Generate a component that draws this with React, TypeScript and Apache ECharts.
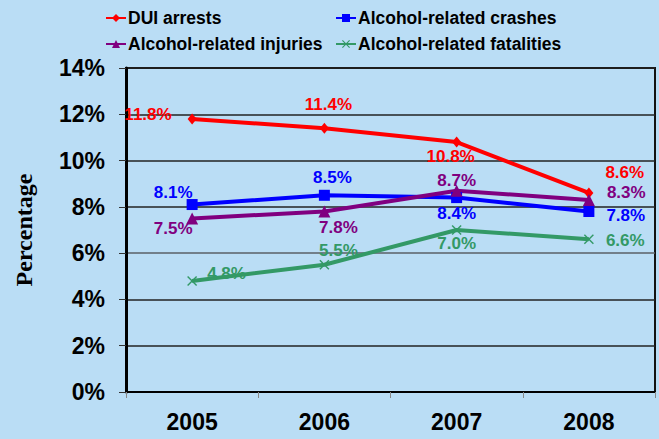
import React, { useEffect, useRef } from "react";
import * as echarts from "echarts";

const years = ["2005", "2006", "2007", "2008"];
const duiArrests = [11.8, 11.4, 10.8, 8.6];
const crashes = [8.1, 8.5, 8.4, 7.8];
const injuries = [7.5, 7.8, 8.7, 8.3];
const fatalities = [4.8, 5.5, 7.0, 6.6];
const yTicks = { min: 0, max: 14, interval: 2 };

const BG = "#BADDF5";
const FONT = "'Liberation Sans', Arial, sans-serif";

type LP = { position: string; distance: number; offset: [number, number] };
const duiLabels: LP[] = [
  { position: "left", distance: 16, offset: [0, -4] },
  { position: "top", distance: 16, offset: [4, 6] },
  { position: "bottom", distance: 4, offset: [-6, -4] },
  { position: "right", distance: 12, offset: [0, -20] },
];
const crashLabels: LP[] = [
  { position: "top", distance: 4, offset: [-19, 6] },
  { position: "top", distance: 9, offset: [8, 5] },
  { position: "bottom", distance: 6, offset: [0, -4] },
  { position: "right", distance: 12, offset: [0, 4] },
];
const injuryLabels: LP[] = [
  { position: "bottom", distance: 1, offset: [-19, -5] },
  { position: "bottom", distance: 7, offset: [14, -5] },
  { position: "top", distance: 2, offset: [0, 6] },
  { position: "right", distance: 12, offset: [0, -7] },
];
const fatalityLabels: LP[] = [
  { position: "right", distance: 10, offset: [0, -7] },
  { position: "top", distance: 7, offset: [14, 6] },
  { position: "bottom", distance: 4, offset: [0, -4] },
  { position: "right", distance: 12, offset: [0, 1] },
];

const X_SYMBOL =
  "path://M0,1L1,0L5,4L9,0L10,1L6,5L10,9L9,10L5,6L1,10L0,9L4,5Z";

function buildSeries(
  name: string,
  values: number[],
  labels: LP[],
  color: string,
  symbol: string,
  symbolSize: number | number[]
) {
  return {
    name,
    type: "line",
    color,
    symbol,
    symbolSize,
    showAllSymbol: true,
    lineStyle: { color, width: 4 },
    itemStyle: { color },
    z: 3,
    data: values.map((v, i) => ({
      value: v,
      label: {
        show: true,
        position: labels[i].position,
        distance: labels[i].distance,
        offset: labels[i].offset,
        color,
        fontFamily: FONT,
        fontWeight: "bold",
        fontSize: 17,
        formatter: (p: any) => p.value.toFixed(1) + "%",
      },
    })),
  };
}

function legendAt(name: string, left: number, top: number) {
  return {
    data: [name],
    left,
    top,
    padding: 0,
    itemWidth: 20,
    itemHeight: 10,
    itemGap: 0,
    textStyle: {
      fontFamily: FONT,
      fontWeight: "bold",
      fontSize: 17.5,
      color: "#000",
      padding: [0, 0, 0, -3],
    },
  };
}

export default function App() {
  const ref = useRef<HTMLDivElement>(null);
  useEffect(() => {
    if (!ref.current) return;
    const chart = echarts.init(ref.current, null, { renderer: "svg" });
    chart.setOption({
      animation: false,
      backgroundColor: BG,
      legend: [
        legendAt("DUI arrests", 105, 9),
        legendAt("Alcohol-related crashes", 335, 9),
        legendAt("Alcohol-related injuries", 105, 35),
        legendAt("Alcohol-related fatalities", 335, 35),
      ],
      grid: {
        left: 126,
        top: 68,
        right: 4,
        bottom: 47,
        show: true,
        backgroundColor: BG,
        borderColor: "#111",
        borderWidth: 2,
      },
      xAxis: {
        type: "category",
        data: years,
        boundaryGap: true,
        axisLine: { show: true, lineStyle: { color: "#000", width: 2 } },
        axisTick: { show: true, length: 6, lineStyle: { color: "#888" } },
        axisLabel: {
          margin: 18,
          color: "#000",
          fontFamily: FONT,
          fontWeight: "bold",
          fontSize: 23,
        },
        splitLine: { show: false },
      },
      yAxis: {
        type: "value",
        min: yTicks.min,
        max: yTicks.max,
        interval: yTicks.interval,
        name: "Percentage",
        nameLocation: "middle",
        nameGap: 90,
        nameTextStyle: {
          fontFamily: "'Liberation Serif', 'Times New Roman', serif",
          fontWeight: "bold",
          fontSize: 24,
          color: "#000",
        },
        axisLine: { show: true, lineStyle: { color: "#000", width: 3 } },
        axisTick: { show: true, length: 7, lineStyle: { color: "#333" } },
        axisLabel: {
          margin: 21,
          color: "#000",
          fontFamily: FONT,
          fontWeight: "bold",
          fontSize: 23,
          formatter: "{value}%",
        },
        splitLine: {
          show: true,
          lineStyle: {
            color: ["#222", "#222", "#222", "#5a5f66", "#222", "#222", "#222", "#222"],
            width: 1.5,
          },
        },
      },
      series: [
        buildSeries("DUI arrests", duiArrests, duiLabels, "#FF0000", "diamond", [9, 11]),
        buildSeries("Alcohol-related crashes", crashes, crashLabels, "#0000FF", "rect", 11),
        buildSeries("Alcohol-related injuries", injuries, injuryLabels, "#800080", "triangle", 12),
        buildSeries("Alcohol-related fatalities", fatalities, fatalityLabels, "#339966", X_SYMBOL, 10),
      ],
    });
    return () => chart.dispose();
  }, []);
  return (
    <div
      ref={ref}
      style={{ position: "absolute", left: 0, top: 0, width: 659, height: 439 }}
    />
  );
}
